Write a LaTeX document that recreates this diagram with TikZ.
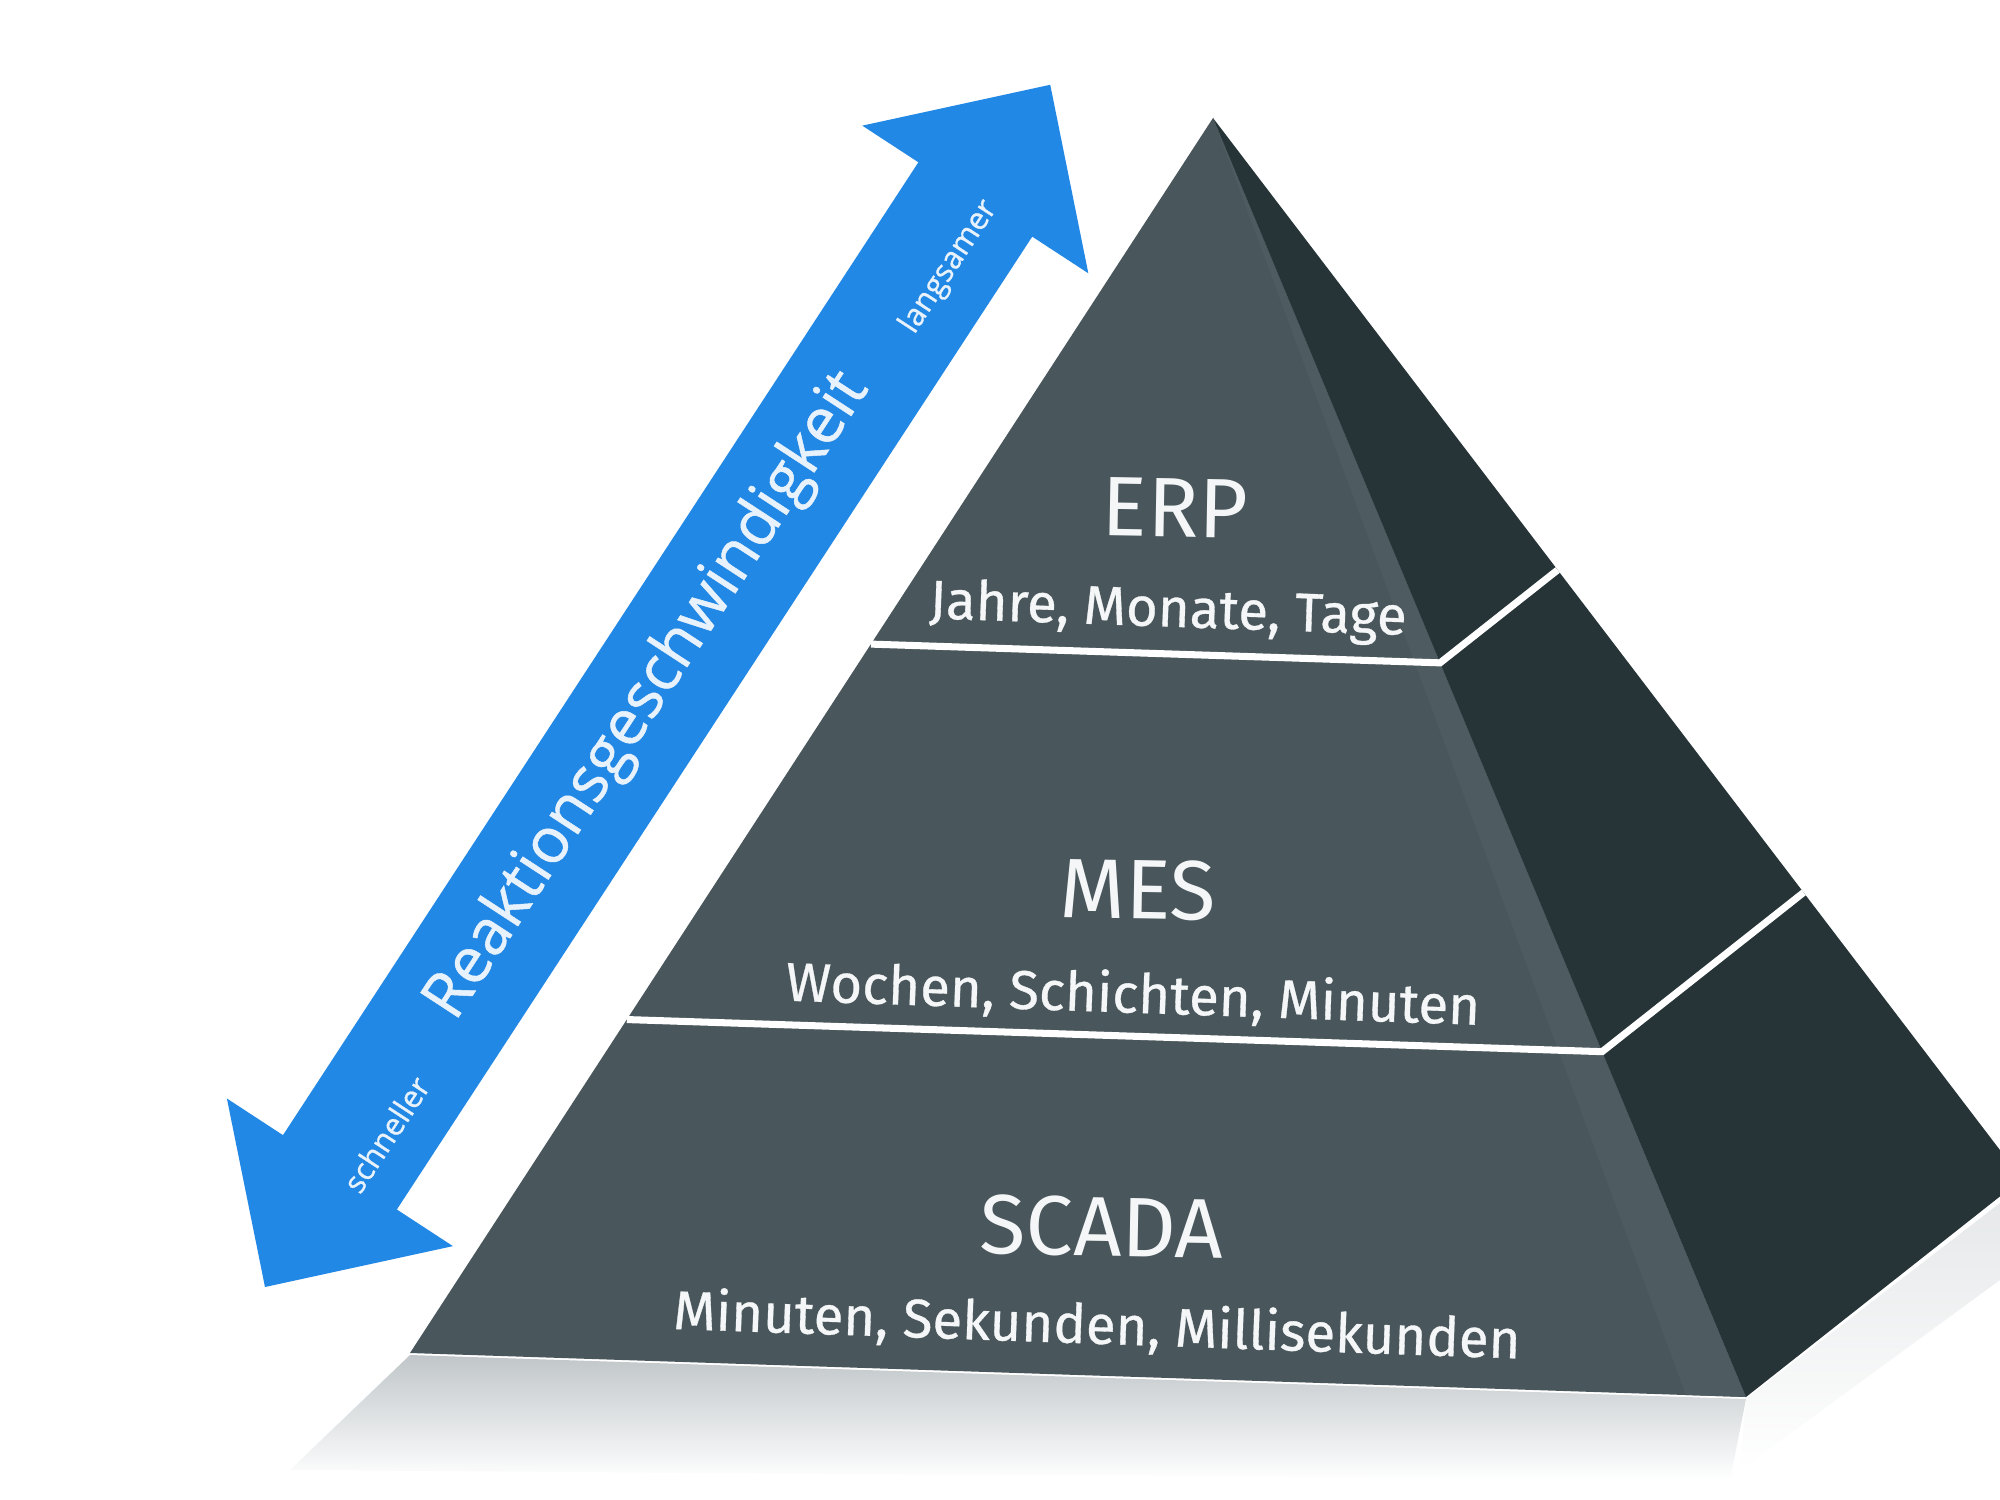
\documentclass[tikz,border=0pt]{standalone}
\usepackage{fontspec}
\usetikzlibrary{calc}
\newfontfamily\pyrfont{Fira Sans}
\newfontfamily\pyrsubfont[FakeBold=0.6]{Fira Sans}
\newfontfamily\arrfont[FakeBold=0.8]{Open Sans}
\definecolor{arrowblue}{RGB}{34,136,229}
\definecolor{frontgray}{RGB}{73,86,91}
\definecolor{ridgegray}{RGB}{78,91,97}
\definecolor{sidegray}{RGB}{38,51,55}
\definecolor{arrowtext}{RGB}{232,242,252}
\definecolor{shadowgray}{RGB}{192,198,201}
\definecolor{pyrtext}{RGB}{244,246,247}
\begin{document}
\begin{tikzpicture}[x=0.01cm,y=-0.01cm,
  sepline/.style={draw=white,line width=2pt,line join=miter},
  pyrtitle/.style={text=pyrtext,font=\pyrfont\fontsize{24}{28}\selectfont,inner sep=0pt,rotate=-1},
  pyrsub/.style={text=pyrtext,font=\pyrsubfont\fontsize{15.5}{18}\selectfont,inner sep=0pt,rotate=-2},
  arrbig/.style={text=arrowtext,font=\arrfont\fontsize{18}{21}\selectfont,inner sep=0pt,rotate=56.85},
  arrsmall/.style={text=arrowtext,font=\arrfont\fontsize{8.8}{10}\selectfont,inner sep=0pt,rotate=56.85}]
\useasboundingbox (0,0) rectangle (2000,1500);
\clip (0,0) rectangle (2000,1500);
\fill[white] (0,0) rectangle (2000,1500);

% pyramid corners
\coordinate (A) at (1213,118);
\coordinate (L) at (410,1353);
\coordinate (R) at (1746,1397);
\coordinate (S) at (2022,1179);
\coordinate (L1) at ($(A)!0.426!(L)$);
\coordinate (M1) at ($(A)!0.426!(R)$);
\coordinate (S1) at ($(A)!0.426!(S)$);
\coordinate (L2) at ($(A)!0.730!(L)$);
\coordinate (M2) at ($(A)!0.730!(R)$);
\coordinate (S2) at ($(A)!0.730!(S)$);

% shadow below
\shade[top color=shadowgray,bottom color=white] (410,1355) -- (1746,1399) -- (1730,1480) -- (290,1470) -- cycle;
\shade[top color=shadowgray!40,bottom color=white] (1746,1399) -- (2000,1203) -- (2000,1280) -- (1740,1470) -- cycle;

% faces
\fill[frontgray] (A) -- (L) -- (R) -- cycle;
\fill[ridgegray] (A) -- (R) -- ($(R)+(-60,-2)$) -- cycle;
\fill[sidegray] (A) -- (R) -- (S) -- cycle;

% separators
\draw[sepline] (L1) -- (M1) -- (S1);
\draw[sepline] (L2) -- (M2) -- (S2);

% texts
\node[pyrtitle] (erp) at (1175,508) {ERP};
\node[pyrsub] (erpsub) at (1168,612) {Jahre, Monate, Tage};
\node[pyrtitle] (mes) at (1138,890) {MES};
\node[pyrsub] (messub) at (1133,996) {Wochen, Schichten, Minuten};
\node[pyrtitle] (scada) at (1102,1227) {SCADA};
\node[pyrsub] (scadasub) at (1097,1327) {Minuten, Sekunden, Millisekunden};

% double arrow
\begin{scope}[shift={(265,1287)},rotate=56.85]
  \fill[arrowblue] (0,0) -- (137,-135) -- (137,-68) -- (1299,-68) -- (1299,-135)
    -- (1436,0) -- (1299,135) -- (1299,68) -- (137,68) -- (137,135) -- cycle;
  \node[arrbig] (speed) at (704,-2) {Reaktionsgeschwindigkeit};
  \node[arrsmall] (slow) at (1228,15) {langsamer};
  \node[arrsmall] (fast) at (194,18) {schneller};
\end{scope}
\end{tikzpicture}
\end{document}
